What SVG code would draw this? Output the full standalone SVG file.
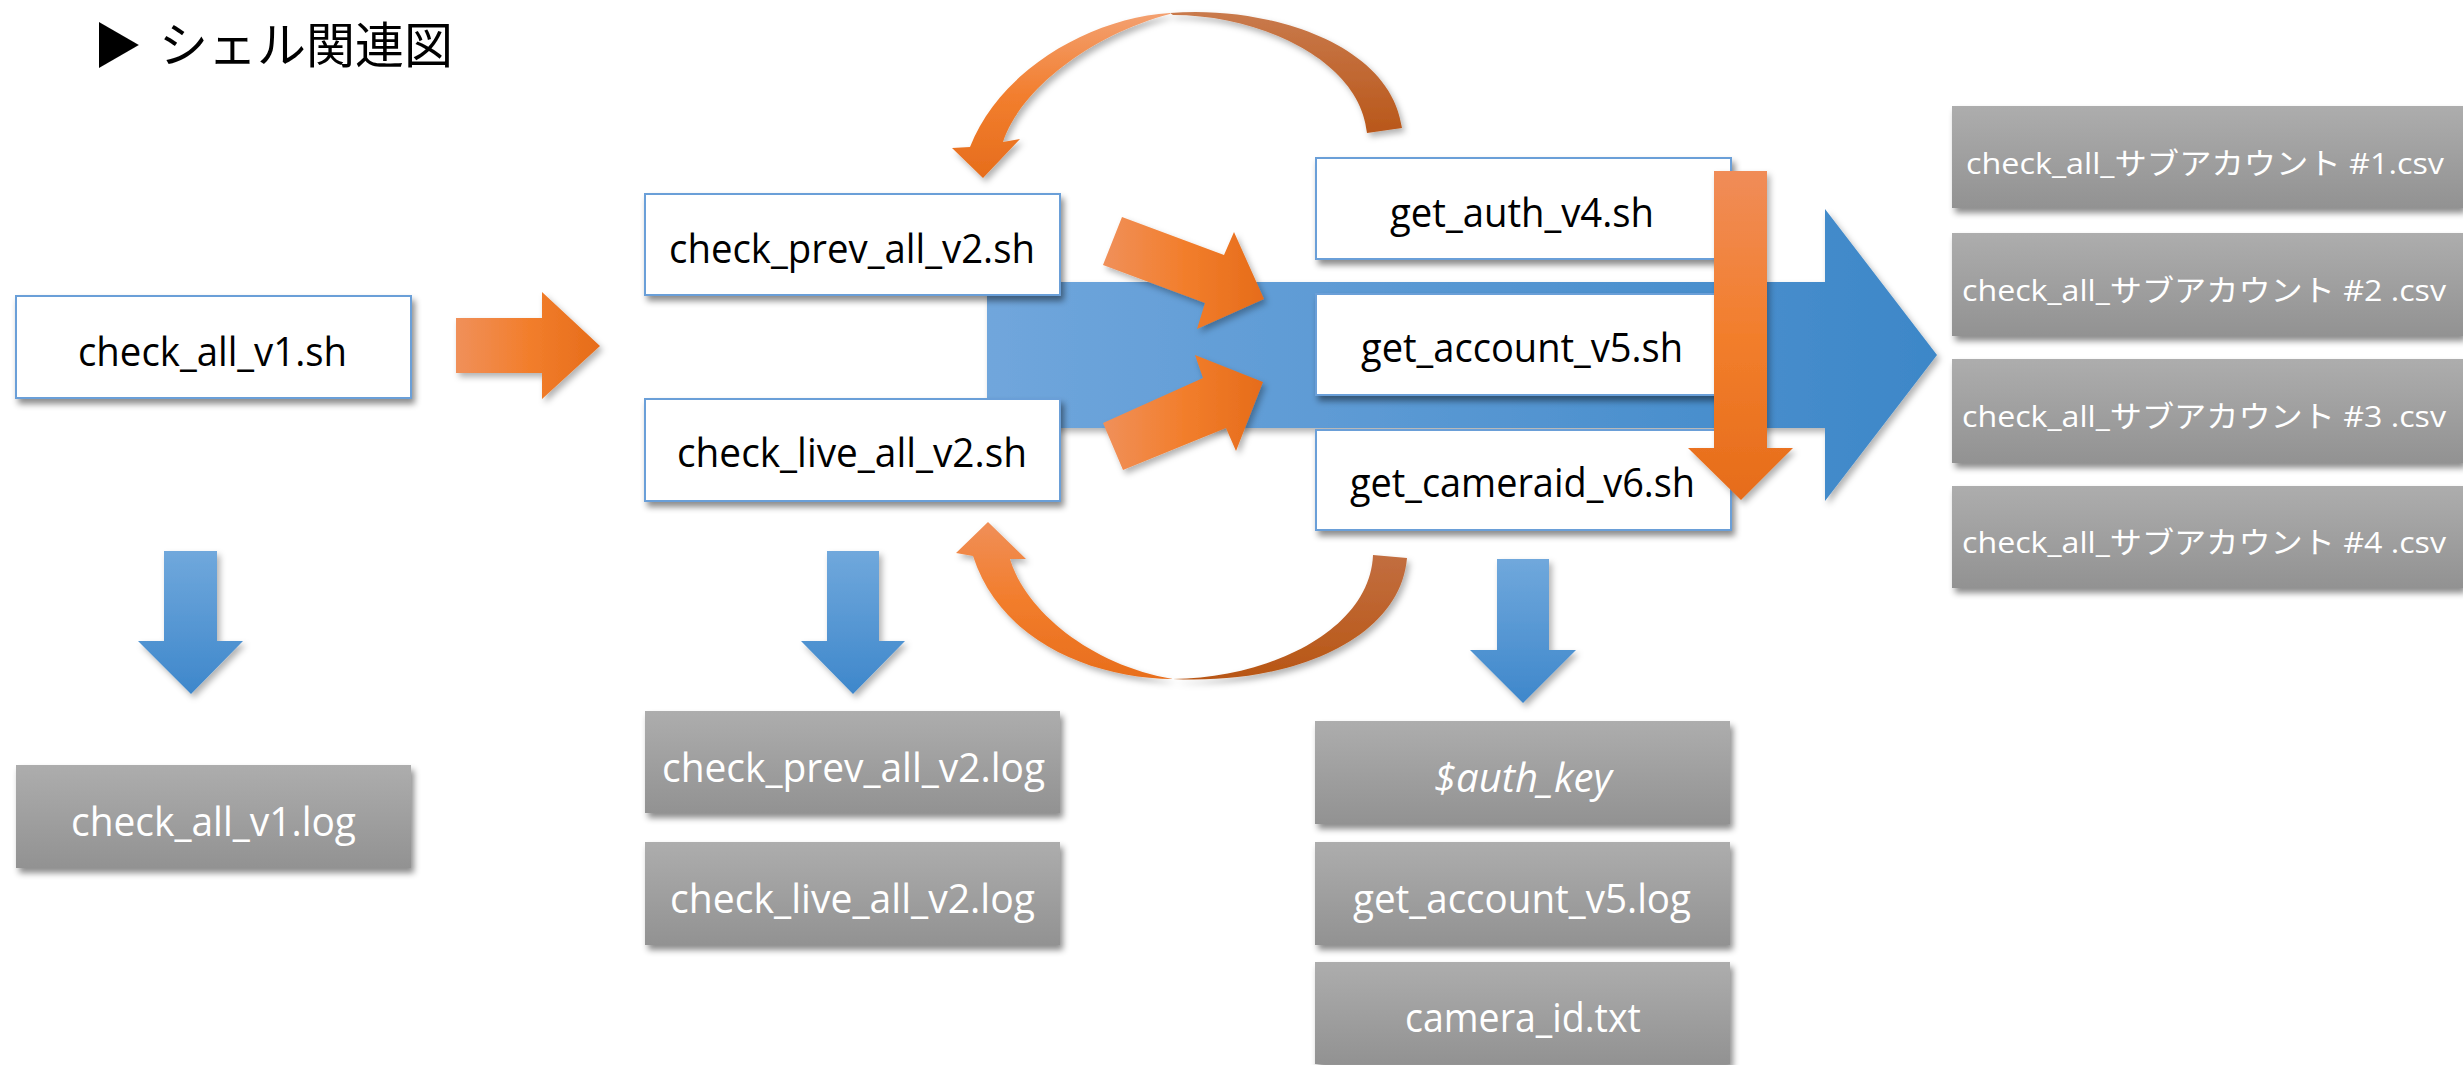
<svg xmlns="http://www.w3.org/2000/svg" width="2463" height="1065" viewBox="0 0 2463 1065">
<defs>
<style>
.sh{fill:#ffffff;stroke:#6a9fd8;stroke-width:2;filter:url(#shadow)}
.gr{fill:url(#grayG);filter:url(#shadow)}
.t{font-family:"Open Sans","Liberation Sans",sans-serif;font-size:41px;fill:#000000}
.w{font-family:"Open Sans","Liberation Sans",sans-serif;font-size:41px;fill:#ffffff}
.csv{font-family:"Open Sans","Noto Sans CJK JP",sans-serif;font-size:30px;fill:#ffffff}
.ttl{font-family:"Noto Sans CJK JP",sans-serif;font-size:49px;fill:#000000}
.arr{filter:url(#ashadow)}
</style>
<filter id="shadow" x="-10%" y="-20%" width="130%" height="160%">
<feDropShadow dx="3" dy="5" stdDeviation="3" flood-color="#000" flood-opacity="0.45"/>
</filter>
<filter id="ashadow" x="-20%" y="-20%" width="150%" height="150%">
<feDropShadow dx="3" dy="4" stdDeviation="3" flood-color="#000" flood-opacity="0.3"/>
</filter>
<linearGradient id="grayG" x1="0" y1="0" x2="0" y2="1">
<stop offset="0" stop-color="#adadad"/>
<stop offset="1" stop-color="#929292"/>
</linearGradient>
<linearGradient id="bandG" gradientUnits="userSpaceOnUse" x1="987" y1="0" x2="1937" y2="0">
<stop offset="0" stop-color="#70a6dc"/>
<stop offset="1" stop-color="#3d87c8"/>
</linearGradient>
<linearGradient id="blueDown" x1="0" y1="0" x2="0" y2="1">
<stop offset="0" stop-color="#70a8dc"/>
<stop offset="1" stop-color="#3e87cb"/>
</linearGradient>
<linearGradient id="orH" x1="0" y1="0" x2="1" y2="0">
<stop offset="0" stop-color="#f0905a"/>
<stop offset="0.5" stop-color="#f27e2c"/>
<stop offset="1" stop-color="#e66c1a"/>
</linearGradient>
<linearGradient id="orV" x1="0" y1="0" x2="0" y2="1">
<stop offset="0" stop-color="#f08c58"/>
<stop offset="0.5" stop-color="#f27e2c"/>
<stop offset="1" stop-color="#e66c1a"/>
</linearGradient>
<linearGradient id="arcFrontTop" x1="0" y1="0" x2="0" y2="1">
<stop offset="0" stop-color="#f3a070"/>
<stop offset="0.5" stop-color="#f27e2e"/>
<stop offset="1" stop-color="#e66d1c"/>
</linearGradient>
<linearGradient id="arcBackTop" x1="0" y1="0" x2="0" y2="1">
<stop offset="0" stop-color="#c97a4c"/>
<stop offset="1" stop-color="#b9571a"/>
</linearGradient>
<linearGradient id="arcFrontBot" x1="0" y1="0" x2="0" y2="1">
<stop offset="0" stop-color="#f08f58"/>
<stop offset="0.5" stop-color="#f27d2c"/>
<stop offset="1" stop-color="#e86e1c"/>
</linearGradient>
<linearGradient id="arcBackBot" x1="0" y1="0" x2="0" y2="1">
<stop offset="0" stop-color="#c26e40"/>
<stop offset="1" stop-color="#b85614"/>
</linearGradient>
</defs>
<rect width="2463" height="1065" fill="#ffffff"/>

<g id="title">
<text class="ttl" y="63"><tspan x="93">▶</tspan><tspan x="159">シェル関連図</tspan></text>
</g>

<g id="connectors-back">
<polygon class="arr" fill="url(#bandG)" points="987,282 1825,282 1825,209 1937,355 1825,501 1825,428 987,428"/>
</g>

<g id="node-check_all_v1_sh">
<rect class="sh" x="16" y="296" width="395" height="102"/>
<text class="t" x="78" y="366" textLength="269" lengthAdjust="spacingAndGlyphs">check_all_v1.sh</text>
</g>
<g id="node-check_prev_all_v2_sh">
<rect class="sh" x="645" y="194" width="415" height="101"/>
<text class="t" x="669" y="263" textLength="366" lengthAdjust="spacingAndGlyphs">check_prev_all_v2.sh</text>
</g>
<g id="node-check_live_all_v2_sh">
<rect class="sh" x="645" y="399" width="415" height="102"/>
<text class="t" x="677" y="467" textLength="350" lengthAdjust="spacingAndGlyphs">check_live_all_v2.sh</text>
</g>
<g id="node-get_auth_v4_sh">
<rect class="sh" x="1316" y="158" width="415" height="101"/>
<text class="t" x="1390" y="227" textLength="264" lengthAdjust="spacingAndGlyphs">get_auth_v4.sh</text>
</g>
<g id="node-get_account_v5_sh">
<rect class="sh" x="1316" y="294" width="415" height="101"/>
<text class="t" x="1361" y="362" textLength="322" lengthAdjust="spacingAndGlyphs">get_account_v5.sh</text>
</g>
<g id="node-get_cameraid_v6_sh">
<rect class="sh" x="1316" y="430" width="415" height="100"/>
<text class="t" x="1350" y="497" textLength="345" lengthAdjust="spacingAndGlyphs">get_cameraid_v6.sh</text>
</g>

<g id="node-check_all_v1_log">
<rect class="gr" x="16" y="765" width="395" height="103"/>
<text class="w" x="71" y="836" textLength="285" lengthAdjust="spacingAndGlyphs">check_all_v1.log</text>
</g>
<g id="node-check_prev_all_v2_log">
<rect class="gr" x="645" y="711" width="415" height="102"/>
<text class="w" x="662" y="782" textLength="383" lengthAdjust="spacingAndGlyphs">check_prev_all_v2.log</text>
</g>
<g id="node-check_live_all_v2_log">
<rect class="gr" x="645" y="842" width="415" height="103"/>
<text class="w" x="670" y="913" textLength="365" lengthAdjust="spacingAndGlyphs">check_live_all_v2.log</text>
</g>
<g id="node-auth_key">
<rect class="gr" x="1315" y="721" width="415" height="103"/>
<text class="w" x="1434" y="792" textLength="178" lengthAdjust="spacingAndGlyphs" font-style="italic">$auth_key</text>
</g>
<g id="node-get_account_v5_log">
<rect class="gr" x="1315" y="842" width="415" height="103"/>
<text class="w" x="1353" y="913" textLength="338" lengthAdjust="spacingAndGlyphs">get_account_v5.log</text>
</g>
<g id="node-camera_id_txt">
<rect class="gr" x="1315" y="962" width="415" height="102"/>
<text class="w" x="1405" y="1032" textLength="236" lengthAdjust="spacingAndGlyphs">camera_id.txt</text>
</g>

<g id="node-csv1">
<rect class="gr" x="1952" y="106" width="511" height="102"/>
<text class="csv" x="1966" y="174" textLength="478" lengthAdjust="spacingAndGlyphs">check_all_サブアカウント #1.csv</text>
</g>
<g id="node-csv2">
<rect class="gr" x="1952" y="233" width="511" height="103"/>
<text class="csv" x="1962" y="301" textLength="484" lengthAdjust="spacingAndGlyphs">check_all_サブアカウント #2 .csv</text>
</g>
<g id="node-csv3">
<rect class="gr" x="1952" y="359" width="511" height="104"/>
<text class="csv" x="1962" y="427" textLength="484" lengthAdjust="spacingAndGlyphs">check_all_サブアカウント #3 .csv</text>
</g>
<g id="node-csv4">
<rect class="gr" x="1952" y="486" width="511" height="102"/>
<text class="csv" x="1962" y="553" textLength="484" lengthAdjust="spacingAndGlyphs">check_all_サブアカウント #4 .csv</text>
</g>

<g id="connectors">
<polygon class="arr" fill="url(#orH)" points="456,318 542,318 542,292 600,346 542,399 542,373 456,373"/>
<polygon class="arr" fill="url(#orH)" points="1122,217 1224,255 1234,232 1264,299 1197,329 1205,303 1103,265"/>
<polygon class="arr" fill="url(#orH)" points="1103,423 1203,378 1195,355 1263,382 1236,451 1226,428 1123,470"/>
<polygon class="arr" fill="url(#orV)" points="1714,171 1767,171 1767,448 1793,448 1741,500 1688,448 1714,448"/>
<polygon class="arr" fill="url(#blueDown)" points="164,551 217,551 217,641 243,641 191,694 138,641 164,641"/>
<polygon class="arr" fill="url(#blueDown)" points="827,551 879,551 879,641 905,641 853,694 801,641 827,641"/>
<polygon class="arr" fill="url(#blueDown)" points="1497,559 1549,559 1549,650 1576,650 1523,703 1470,650 1497,650"/>
<g class="arr">
<path fill="url(#arcBackTop)" d="M1170,13 C1260,5 1390,40 1402,128 L1367,133 C1360,60 1260,15 1173,15 Z"/>
<path fill="url(#arcFrontTop)" d="M1170,13 C1090,18 1000,70 970,147 L952,148 L983,178 L1020,139 L1003,142 C1020,90 1090,35 1170,14 Z"/>
</g>
<g class="arr">
<path fill="url(#arcBackBot)" d="M1173,679 C1290,685 1400,640 1407,558 L1373,555 C1370,630 1270,678 1173,679 Z"/>
<path fill="url(#arcFrontBot)" d="M1173,679 C1090,678 1000,640 973,556 L956,553 L988,522 L1026,559 L1010,559 C1025,610 1090,665 1173,679 Z"/>
</g>
</g>
</svg>
